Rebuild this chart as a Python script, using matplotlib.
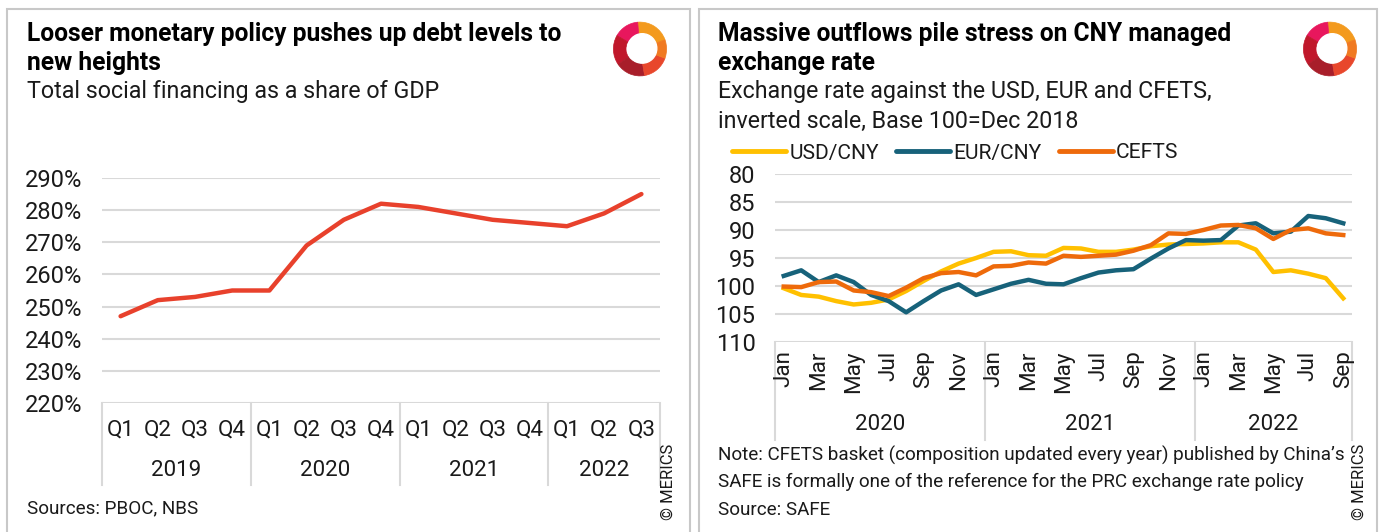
import matplotlib
matplotlib.use("Agg")
import matplotlib.pyplot as plt
from matplotlib.patches import Rectangle, Wedge
from matplotlib.lines import Line2D
import matplotlib.transforms as mtransforms

plt.rcParams['font.family'] = ['Roboto', 'DejaVu Sans']

# ---------------- data ----------------
quarters = ["Q1", "Q2", "Q3", "Q4"] * 3 + ["Q1", "Q2", "Q3"]
quarter_years = ["2019", "2020", "2021", "2022"]
tsf_gdp = [247, 252, 253, 255, 255, 269, 277, 282, 281, 279, 277, 276, 275, 279, 285]

month_names = ["Jan", "Feb", "Mar", "Apr", "May", "Jun", "Jul", "Aug", "Sep", "Oct", "Nov", "Dec"]
months = month_names * 2 + month_names[:9]
month_years = ["2020", "2021", "2022"]
usd_cny = [100.4, 101.6, 101.9, 102.7, 103.3, 103.0, 102.4, 100.9, 99.1, 97.4, 96.0, 95.0,
           93.9, 93.8, 94.5, 94.6, 93.2, 93.3, 93.9, 93.9, 93.5, 92.9, 92.6, 92.5,
           92.4, 92.2, 92.2, 93.5, 97.5, 97.2, 97.8, 98.6, 102.2]
eur_cny = [98.2, 97.2, 99.3, 98.1, 99.3, 101.6, 102.7, 104.7, 102.7, 100.8, 99.7, 101.6,
           100.6, 99.6, 98.9, 99.6, 99.7, 98.6, 97.6, 97.2, 97.0, 95.1, 93.3, 91.8,
           91.9, 91.8, 89.2, 88.8, 90.6, 90.3, 87.5, 87.9, 88.8]
cfets = [100.1, 100.2, 99.3, 99.2, 100.8, 101.1, 101.8, 100.3, 98.6, 97.7, 97.5, 98.1,
         96.5, 96.4, 95.8, 96.0, 94.6, 94.8, 94.6, 94.4, 93.7, 92.7, 90.6, 90.7,
         90.0, 89.2, 89.1, 89.7, 91.6, 90.0, 89.7, 90.6, 90.9]

W, H = 1384, 532
fig = plt.figure(figsize=(W / 100, H / 100), dpi=100)
renderer = fig.canvas.get_renderer()


def rect(x0, y0, x1, y1):
    return [x0 / W, 1 - y1 / H, (x1 - x0) / W, (y1 - y0) / H]


def fx(x):
    return x / W


def fy(y):
    return 1 - y / H


def size_for(text, target_px, weight="normal"):
    t = fig.text(0, 0, text, fontsize=10, fontweight=weight)
    w = t.get_window_extent(renderer).width
    t.remove()
    return 10 * target_px / w


GRID = "#d9d9d9"
TXT = "#1a1a1a"

FS_TITLE = size_for("Looser monetary policy pushes up debt levels to", 536, "bold")
FS_SUB = size_for("Total social financing as a share of GDP", 414)
FS_NOTE = size_for("Note: CFETS basket (composition updated every year) published by China’s", 627)
FS_TICK = size_for("290%", 57)
FS_CAT = size_for("2020", 50)
FS_LEG = size_for("USD/CNY", 89)
FS_COPY = size_for("© MERICS", 76)

# panel borders
for x0, x1 in [(7, 690), (699, 1377)]:
    fig.patches.append(Rectangle((fx(x0), fy(545)), fx(x1) - fx(x0), fy(9) - fy(545),
                                 transform=fig.transFigure, fill=False,
                                 edgecolor="#c8c8c8", linewidth=1.5))

# titles
fig.text(fx(27), fy(34), "Looser monetary policy pushes up debt levels to", fontsize=FS_TITLE,
         fontweight="bold", va="center", ha="left", color="black")
fig.text(fx(27), fy(63), "new heights", fontsize=FS_TITLE, fontweight="bold", va="center", ha="left", color="black")
fig.text(fx(27), fy(92), "Total social financing as a share of GDP", fontsize=FS_SUB, va="center", ha="left", color=TXT)

fig.text(fx(718), fy(34), "Massive outflows pile stress on CNY managed", fontsize=FS_TITLE,
         fontweight="bold", va="center", ha="left", color="black")
fig.text(fx(718), fy(63), "exchange rate", fontsize=FS_TITLE, fontweight="bold", va="center", ha="left", color="black")
fig.text(fx(718), fy(92), "Exchange rate against the USD, EUR and CFETS,", fontsize=FS_SUB, va="center", ha="left", color=TXT)
fig.text(fx(718), fy(121), "inverted scale, Base 100=Dec 2018", fontsize=FS_SUB, va="center", ha="left", color=TXT)


# logos
def logo(cx, cy):
    lax = fig.add_axes(rect(cx - 28, cy - 34, cx + 28, cy + 34))
    lax.set_xlim(-1, 1)
    lax.set_ylim(-1.2, 1.2)
    lax.axis("off")
    segs = [(20, 95, "#F39A1E"), (95, 150, "#E8175D"), (150, 215, "#C0182B"),
            (215, 280, "#A81E2A"), (280, 340, "#E8472C"), (340, 380, "#F07A22")]
    for a0, a1, c in segs:
        lax.add_patch(Wedge((0, 0), 0.95, a0, a1, width=0.45, facecolor=c, edgecolor=c, linewidth=0.5))
    lax.add_patch(Wedge((0.08, 0.02), 0.52, 0, 360, facecolor="white", edgecolor="white"))


logo(640, 49)
logo(1330, 49)

# ---------------- left chart ----------------
axL = fig.add_axes(rect(102, 178, 660, 403))
n = len(tsf_gdp)
xs = list(range(n))
axL.plot(xs, tsf_gdp, color="#E8412C", linewidth=3.2, solid_capstyle="round", zorder=3)
axL.set_xlim(-0.5, n - 0.5)
axL.set_ylim(220, 290)
yt = list(range(220, 300, 10))
axL.set_yticks(yt)
axL.set_yticklabels([f"{v}%" for v in yt], fontsize=FS_TICK, color=TXT)
axL.tick_params(axis="y", length=0, pad=14)
axL.set_xticks([])
for s in axL.spines.values():
    s.set_visible(False)
for v in yt:
    axL.axhline(v, color=GRID, linewidth=1.5, zorder=1)
trL = mtransforms.blended_transform_factory(axL.transData, axL.transAxes)
for b in [-0.5, 3.5, 7.5, 11.5, n - 0.5]:
    axL.add_line(Line2D([b, b], [0, -0.365], transform=trL, color=GRID, linewidth=1.5, clip_on=False))
for i, q in enumerate(quarters):
    axL.text(i, -0.12, q, transform=trL, ha="center", va="center", fontsize=FS_CAT, color=TXT)
starts = [0, 4, 8, 12]
ends = [3, 7, 11, n - 1]
for yr, s0, e0 in zip(quarter_years, starts, ends):
    axL.text((s0 + e0) / 2, -0.30, yr, transform=trL, ha="center", va="center", fontsize=FS_CAT, color=TXT)

fig.text(fx(27), fy(508), "Sources: PBOC, NBS", fontsize=FS_NOTE, va="center", ha="left", color=TXT)
fig.text(fx(668), fy(482), "© MERICS", fontsize=FS_COPY, rotation=90, va="center", ha="center", color=TXT)

# ---------------- right chart ----------------
axR = fig.add_axes(rect(775, 174, 1352, 342))
m = len(usd_cny)
xm = list(range(m))
cols = {"USD/CNY": "#FFC000", "EUR/CNY": "#17627A", "CEFTS": "#EE6A0B"}
axR.plot(xm, usd_cny, color=cols["USD/CNY"], linewidth=3.2, label="USD/CNY", zorder=3)
axR.plot(xm, eur_cny, color=cols["EUR/CNY"], linewidth=3.2, label="EUR/CNY", zorder=4)
axR.plot(xm, cfets, color=cols["CEFTS"], linewidth=3.2, label="CEFTS", zorder=5)
axR.set_xlim(-0.5, m - 0.5)
axR.set_ylim(110, 80)
yr_t = list(range(80, 115, 5))
axR.set_yticks(yr_t)
axR.set_yticklabels([str(v) for v in yr_t], fontsize=FS_TICK, color=TXT)
axR.tick_params(axis="y", length=0, pad=14)
axR.set_xticks([])
for s in axR.spines.values():
    s.set_visible(False)
for v in yr_t:
    axR.axhline(v, color=GRID, linewidth=1.5, zorder=1)
trR = mtransforms.blended_transform_factory(axR.transData, axR.transAxes)
for b in [-0.5, 11.5, 23.5, m - 0.5]:
    axR.add_line(Line2D([b, b], [0, -0.585], transform=trR, color=GRID, linewidth=1.5, clip_on=False))
for i, mn in enumerate(months):
    if i % 2 == 0:
        axR.text(i, -0.05, mn, transform=trR, ha="center", va="top", rotation=90, fontsize=FS_CAT, color=TXT)
for yr, s0, e0 in zip(month_years, [0, 12, 24], [11, 23, m - 1]):
    axR.text((s0 + e0) / 2, -0.49, yr, transform=trR, ha="center", va="center", fontsize=FS_CAT, color=TXT)

leg = axR.legend(loc="center left", bbox_to_anchor=(fx(732), fy(153)), bbox_transform=fig.transFigure,
                 ncol=3, frameon=False, fontsize=FS_LEG, handlelength=2.6, handletextpad=0.15,
                 columnspacing=0.8, borderaxespad=0, borderpad=0)
for t in leg.get_texts():
    t.set_color(TXT)
for h in leg.get_lines():
    h.set_linewidth(3.5)
    h.set_solid_capstyle("round")

fig.text(fx(718), fy(455), "Note: CFETS basket (composition updated every year) published by China’s",
         fontsize=FS_NOTE, va="center", ha="left", color=TXT)
fig.text(fx(718), fy(482), "SAFE is formally one of the reference for the PRC exchange rate policy",
         fontsize=FS_NOTE, va="center", ha="left", color=TXT)
fig.text(fx(718), fy(510), "Source: SAFE", fontsize=FS_NOTE, va="center", ha="left", color=TXT)
fig.text(fx(1359), fy(482), "© MERICS", fontsize=FS_COPY, rotation=90, va="center", ha="center", color=TXT)

fig.savefig("out.png", dpi=100, facecolor="white")
